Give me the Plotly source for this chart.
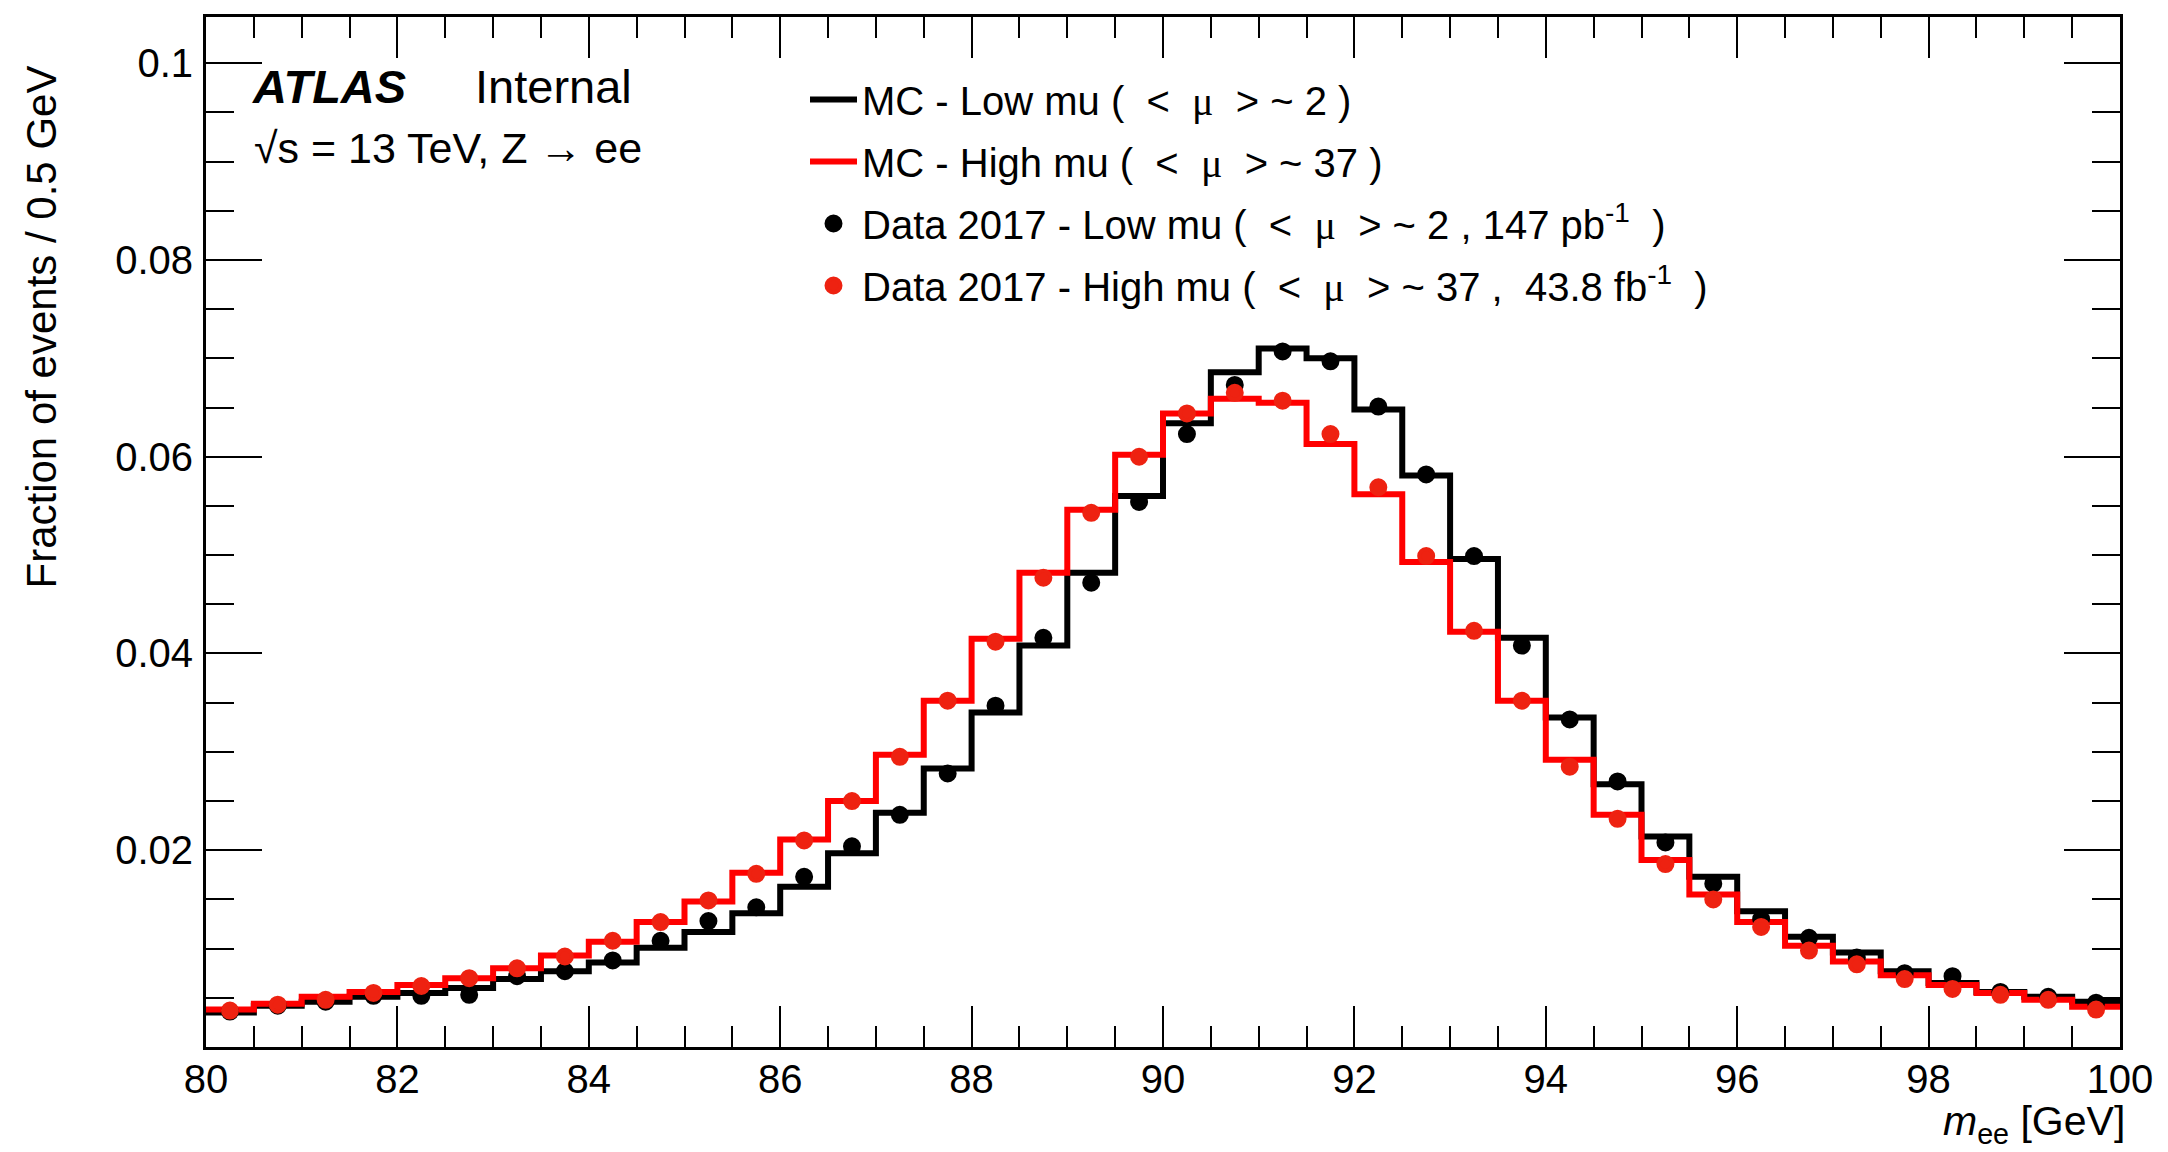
import plotly.graph_objects as go

# ---- data (fraction of events per 0.5 GeV bin, 80-100 GeV) ----
bin_edges_lo = 80.0
bin_width = 0.5
n_bins = 40

mc_low_mu = [0.0035, 0.0042, 0.0046, 0.0051, 0.0055, 0.0060, 0.0069, 0.0077, 0.0086, 0.0101,
             0.0117, 0.0136, 0.0163, 0.0197, 0.0238, 0.0283, 0.0340, 0.0408, 0.0482, 0.0560,
             0.0634, 0.0686, 0.0710, 0.0700, 0.0648, 0.0581, 0.0496, 0.0416, 0.0335, 0.0267,
             0.0214, 0.0173, 0.0138, 0.0112, 0.0096, 0.0077, 0.0065, 0.0056, 0.0051, 0.0046]

mc_high_mu = [0.0038, 0.0044, 0.0051, 0.0056, 0.0063, 0.0070, 0.0080, 0.0093, 0.0107, 0.0127,
              0.0148, 0.0177, 0.0211, 0.0250, 0.0297, 0.0352, 0.0415, 0.0482, 0.0546, 0.0602,
              0.0644, 0.0659, 0.0655, 0.0613, 0.0562, 0.0493, 0.0422, 0.0352, 0.0292, 0.0236,
              0.0190, 0.0155, 0.0127, 0.0103, 0.0087, 0.0073, 0.0063, 0.0055, 0.0048, 0.0041]

data_low_mu = [0.0036, 0.0042, 0.0046, 0.0052, 0.0052, 0.0053, 0.0072, 0.0077, 0.0088, 0.0108,
               0.0128, 0.0142, 0.0173, 0.0204, 0.0236, 0.0278, 0.0347, 0.0416, 0.0472, 0.0554,
               0.0623, 0.0673, 0.0707, 0.0697, 0.0651, 0.0582, 0.0499, 0.0408, 0.0333, 0.0270,
               0.0208, 0.0166, 0.0130, 0.0111, 0.0091, 0.0075, 0.0072, 0.0056, 0.0051, 0.0045]

data_high_mu = [0.0037, 0.0043, 0.0048, 0.0055, 0.0062, 0.0070, 0.0080, 0.0092, 0.0108, 0.0127,
                0.0149, 0.0176, 0.0210, 0.0250, 0.0295, 0.0352, 0.0412, 0.0477, 0.0543, 0.0600,
                0.0644, 0.0665, 0.0657, 0.0623, 0.0569, 0.0499, 0.0423, 0.0352, 0.0285, 0.0232,
                0.0186, 0.0150, 0.0122, 0.0098, 0.0084, 0.0069, 0.0059, 0.0053, 0.0048, 0.0038]

y_tick_vals = [0.02, 0.04, 0.06, 0.08, 0.1]
y_tick_text = ["0.02", "0.04", "0.06", "0.08", "0.1"]
x_tick_vals = [80, 82, 84, 86, 88, 90, 92, 94, 96, 98, 100]

MU = "<span style=\"font-family:'Liberation Serif'\">μ</span>"
labels = {
    "mc_low": f"MC - Low mu (  <  {MU}  > ~ 2 )",
    "mc_high": f"MC - High mu (  <  {MU}  > ~ 37 )",
    "data_low": f"Data 2017 - Low mu (  <  {MU}  > ~ 2 , 147 pb<sup>-1</sup>  )",
    "data_high": f"Data 2017 - High mu (  <  {MU}  > ~ 37 ,  43.8 fb<sup>-1</sup>  )",
}

# ---- derived arrays ----
edges = [bin_edges_lo + i * bin_width for i in range(n_bins + 1)]
centers = [bin_edges_lo + (i + 0.5) * bin_width for i in range(n_bins)]

FONT = "Liberation Sans, Arial, Helvetica, sans-serif"
W, H = 2168, 1152
ML, MR, MT, MB = 206, 48, 17, 105

fig = go.Figure()

fig.add_trace(go.Scatter(x=edges, y=mc_low_mu + [mc_low_mu[-1]], mode="lines",
                         line=dict(color="black", width=6, shape="hv"),
                         name=labels["mc_low"], legendgroup="a", legendrank=1))
fig.add_trace(go.Scatter(x=edges, y=mc_high_mu + [mc_high_mu[-1]], mode="lines",
                         line=dict(color="#ff0000", width=6, shape="hv"),
                         name=labels["mc_high"], legendgroup="b", legendrank=2))
fig.add_trace(go.Scatter(x=centers, y=data_low_mu, mode="markers",
                         marker=dict(color="black", size=14, line=dict(color="black", width=4)),
                         name=labels["data_low"], legendgroup="c", legendrank=3))
fig.add_trace(go.Scatter(x=centers, y=data_high_mu, mode="markers",
                         marker=dict(color="#ee2211", size=14, line=dict(color="#ee2211", width=4)),
                         name=labels["data_high"], legendgroup="d", legendrank=4))

axis_common = dict(showline=True, linecolor="black", linewidth=3, mirror="allticks",
                   ticks="inside", tickcolor="black", tickwidth=2, showgrid=False,
                   zeroline=False, tickfont=dict(family=FONT, size=40, color="black"))

fig.update_xaxes(range=[80, 100], tickmode="array", tickvals=x_tick_vals,
                 ticklen=41, ticklabelstandoff=-5,
                 minor=dict(tickmode="linear", tick0=80, dtick=0.5, ticklen=21,
                            tickwidth=2, tickcolor="black", ticks="inside"),
                 **axis_common)
fig.update_yaxes(range=[0, 0.1047], tickmode="array", tickvals=y_tick_vals,
                 ticktext=y_tick_text, ticklen=56, ticklabelstandoff=2,
                 minor=dict(tickmode="linear", tick0=0, dtick=0.005, ticklen=28,
                            tickwidth=2, tickcolor="black", ticks="inside"),
                 **axis_common)

def px_x(px):
    return (px - ML) / (W - ML - MR)

def px_y(py):
    return 1 - (py - MT) / (H - MT - MB)

ann = []
ann.append(dict(text="<b><i>ATLAS</i></b>", x=px_x(250), y=px_y(87), xref="paper", yref="paper",
                xanchor="left", yanchor="middle", showarrow=False,
                font=dict(family=FONT, size=47, color="black")))
ann.append(dict(text="Internal", x=px_x(473), y=px_y(87), xref="paper", yref="paper",
                xanchor="left", yanchor="middle", showarrow=False,
                font=dict(family=FONT, size=47, color="black")))
ann.append(dict(text="√s = 13 TeV, Z → ee", x=px_x(252), y=px_y(148), xref="paper", yref="paper",
                xanchor="left", yanchor="middle", showarrow=False,
                font=dict(family=FONT, size=43, color="black")))
ann.append(dict(text="Fraction of events / 0.5 GeV", x=px_x(41), y=px_y(64), xref="paper", yref="paper",
                xanchor="center", yanchor="top", textangle=-90, showarrow=False,
                font=dict(family=FONT, size=42, color="black")))
ann.append(dict(text="<i>m</i><sub>ee</sub> [GeV]", x=px_x(2127), y=px_y(1124), xref="paper", yref="paper",
                xanchor="right", yanchor="middle", showarrow=False,
                font=dict(family=FONT, size=41, color="black")))

fig.update_layout(
    width=W, height=H,
    margin=dict(l=ML, r=MR, t=MT, b=MB, pad=0),
    paper_bgcolor="white", plot_bgcolor="white",
    annotations=ann,
    showlegend=True,
    legend=dict(x=px_x(805), y=px_y(67), xanchor="left", yanchor="top",
                bgcolor="rgba(0,0,0,0)", borderwidth=0,
                font=dict(family=FONT, size=40, color="black"),
                tracegroupgap=7, itemwidth=47, traceorder="grouped"),
)

fig.write_html("out.html")
